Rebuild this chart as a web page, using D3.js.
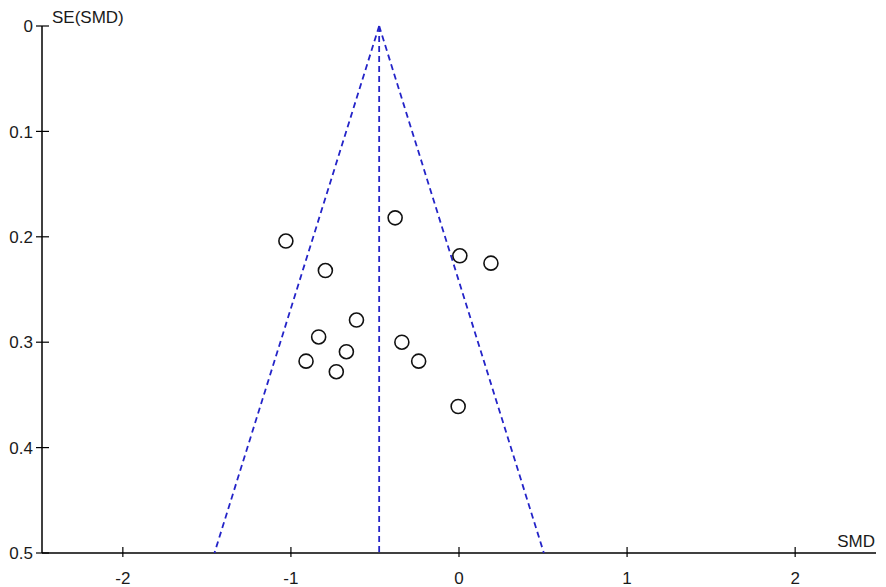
<!DOCTYPE html>
<html><head><meta charset="utf-8">
<script src="https://cdnjs.cloudflare.com/ajax/libs/d3/7.8.5/d3.min.js"></script>
<style>body{margin:0;background:#fff;}svg{display:block;font-family:"Liberation Sans",Arial,sans-serif;}</style>
</head><body>
<script>
const smd = [-1.03, -0.38, 0.005, 0.19, -0.795, -0.61, -0.835, -0.34, -0.67, -0.91, -0.24, -0.73, -0.005];
const se  = [0.204, 0.182, 0.218, 0.225, 0.232, 0.279, 0.295, 0.300, 0.309, 0.318, 0.318, 0.328, 0.361];
const pooled = -0.475;
const xTicks = [-2, -1, 0, 1, 2];
const yTicks = [0, 0.1, 0.2, 0.3, 0.4, 0.5];

const W = 886, H = 587;
const svg = d3.select("body").append("svg").attr("width", W).attr("height", H);
const x = d3.scaleLinear().domain([-2.481, 2.481]).range([42, 876]);
const y = d3.scaleLinear().domain([0, 0.5]).range([26, 553]);
const FS = 17;

// axes
svg.append("line").attr("x1", 42).attr("x2", 42).attr("y1", y(0)).attr("y2", y(0.5)).attr("stroke", "#000").attr("stroke-width", 1.5);
svg.append("line").attr("x1", 42).attr("x2", 876).attr("y1", y(0.5)).attr("y2", y(0.5)).attr("stroke", "#000").attr("stroke-width", 1.5);

yTicks.forEach(t => {
  svg.append("line").attr("x1", 36).attr("x2", 49).attr("y1", y(t)).attr("y2", y(t)).attr("stroke", "#000").attr("stroke-width", 1.2);
  svg.append("text").attr("x", 33).attr("y", y(t)).attr("dy", "0.36em").attr("text-anchor", "end")
    .attr("font-size", FS).attr("fill", "#1a1a1a").text(t === 0 ? "0" : String(t));
});
xTicks.forEach(t => {
  svg.append("line").attr("x1", x(t)).attr("x2", x(t)).attr("y1", y(0.5) - 6).attr("y2", y(0.5) + 4).attr("stroke", "#000").attr("stroke-width", 1.2);
  svg.append("text").attr("x", x(t)).attr("y", 584).attr("text-anchor", "middle")
    .attr("font-size", FS).attr("fill", "#1a1a1a").text(String(t));
});
svg.append("text").attr("x", 52).attr("y", 23).attr("font-size", FS).attr("fill", "#1a1a1a").text("SE(SMD)");
svg.append("text").attr("x", 875).attr("y", 547).attr("text-anchor", "end").attr("font-size", FS).attr("fill", "#1a1a1a").text("SMD");

// funnel
const blue = "#2424c8";
const dash = "6,4";
svg.append("line").attr("x1", x(pooled)).attr("x2", x(pooled)).attr("y1", y(0)).attr("y2", y(0.5))
  .attr("stroke", blue).attr("stroke-width", 1.8).attr("stroke-dasharray", dash);
svg.append("line").attr("x1", x(pooled)).attr("y1", y(0)).attr("x2", x(pooled - 1.96 * 0.5)).attr("y2", y(0.5))
  .attr("stroke", blue).attr("stroke-width", 1.8).attr("stroke-dasharray", dash);
svg.append("line").attr("x1", x(pooled)).attr("y1", y(0)).attr("x2", x(pooled + 1.96 * 0.5)).attr("y2", y(0.5))
  .attr("stroke", blue).attr("stroke-width", 1.8).attr("stroke-dasharray", dash);

// points
svg.selectAll("circle.pt").data(smd.map((d, i) => [d, se[i]])).enter().append("circle")
  .attr("class", "pt").attr("cx", d => x(d[0])).attr("cy", d => y(d[1])).attr("r", 7)
  .attr("fill", "none").attr("stroke", "#111").attr("stroke-width", 1.6);
</script>
</body></html>
